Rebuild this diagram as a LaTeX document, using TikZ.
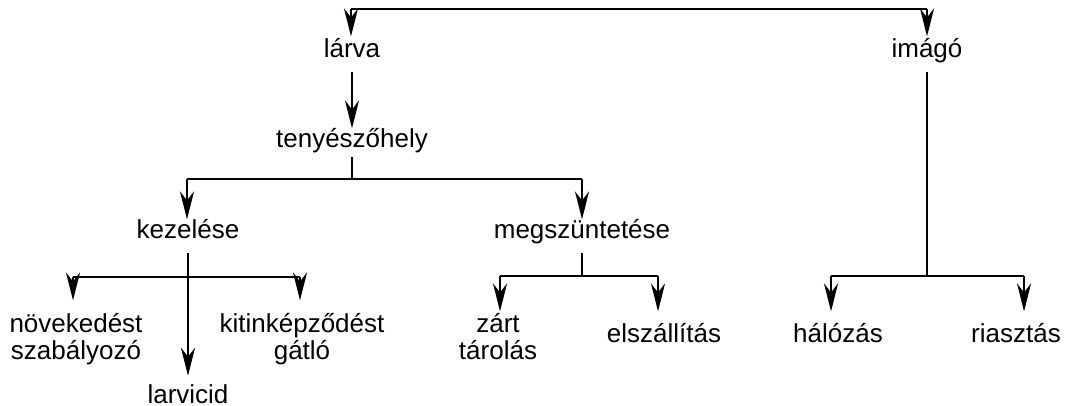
\documentclass[tikz,border=0pt]{standalone}
\usepackage{fontspec}
\setmainfont{Liberation Sans}
\usetikzlibrary{arrows.meta}

\tikzset{
  lbl/.style={font=\fontsize{13}{13.5}\selectfont, inner sep=0pt, anchor=base, align=center},
  branch/.style={line width=1pt},
  arr/.style={branch, -{Stealth[length=14pt, width=7pt, inset=4.5pt]}},
}

\begin{document}
\begin{tikzpicture}[x=0.5pt, y=-0.5pt]
      \useasboundingbox (0,0) rectangle (1065,406);

      % 'larva' and 'imago'
      \node[lbl] at (352,58) (larva) {lárva};
      \node[lbl] at (927,58) (imago) {imágó};

      \coordinate (tl) at (351,9);
      \coordinate (tr) at (927,9);
      \draw[branch] (tl) -- (tr);
      \draw[arr, shorten >=1pt] (tl) -- (larva.north -| tl);
      \draw[arr, shorten >=1pt] (tr) -- (imago.north);

      % 'tenyeszohely'
      \node[lbl] at (352,148) (tenyeszohely) {tenyészőhely};
      \draw[arr, shorten <=7pt] (larva.base) -- (tenyeszohely.north);

      % 'kezelese' and 'megszuntetese'
      \node[lbl] at (188,239) (kezelese) {kezelése};
      \node[lbl] at (582,239) (megszuntetese) {megszüntetése};

      \coordinate (b1) at (352,179);
      \coordinate (b1l) at (187,179);
      \coordinate (b1r) at (582,179);
      \draw[branch, shorten <=4.5pt] (tenyeszohely.base) -- (b1);
      \draw[branch] (b1l) -- (b1r);
      \draw[arr] (b1l) -- (kezelese.north -| b1l);
      \draw[arr] (b1r) -- (megszuntetese.north);

      % 'kezelese' branches
      \node[lbl] at (76,359) (novekedest) {növekedést\\szabályozó};
      \node[lbl] at (302,359) (kitin) {kitinképződést\\gátló};
      \node[lbl] at (188,403) (larvicid) {larvicid};

      \coordinate (b2l) at (73,277);
      \coordinate (b2r) at (300,277);
      \draw[branch] (b2l) -- (b2r);
      \draw[arr, shorten <=7pt, shorten >=4pt] (kezelese.base) -- (larvicid.north);
      \draw[arr, shorten >=6pt] (b2l) -- (novekedest.north -| b2l);
      \draw[arr, shorten >=6pt] (b2r) -- (kitin.north -| b2r);

      % 'megszuntetese' branches
      \node[lbl] at (498,359) (zart) {zárt\\tárolás};
      \node[lbl] at (664,343) (elszallitas) {elszállítás};

      \coordinate (b3) at (582,276);
      \coordinate (b3l) at (500,276);
      \coordinate (b3r) at (658,276);
      \draw[branch, shorten <=7pt] (megszuntetese.base) -- (b3);
      \draw[branch] (b3l) -- (b3r);
      \draw[arr, shorten >=0.5pt] (b3l) -- (zart.north -| b3l);
      \draw[arr, shorten >=6pt] (b3r) -- (elszallitas.north -| b3r);

      % 'imago' branches
      \node[lbl] at (838,343) (halozas) {hálózás};
      \node[lbl] at (1016,343) (riasztas) {riasztás};

      \coordinate (b4) at (927,276);
      \coordinate (b4l) at (831,276);
      \coordinate (b4r) at (1024,276);
      \draw[branch, shorten <=7pt] (imago.base) -- (b4);
      \draw[branch] (b4l) -- (b4r);
      \draw[arr, shorten >=6pt] (b4l) -- (halozas.north -| b4l);
      \draw[arr, shorten >=6pt] (b4r) -- (riasztas.north -| b4r);
\end{tikzpicture}
\end{document}
